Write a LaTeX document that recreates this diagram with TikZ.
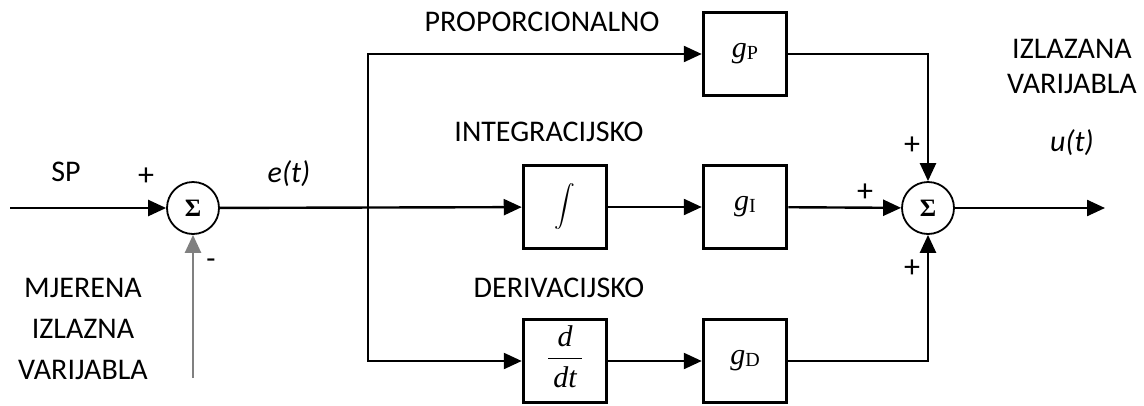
\documentclass[tikz,border=0pt]{standalone}
\usepackage{amsmath}
\usepackage{fontspec}
\setmainfont{Carlito}
\newfontfamily\tms{Liberation Serif}
\usetikzlibrary{arrows.meta}
\newcommand{\pojacanje}[1]{{\tms\fontsize{30}{30}\selectfont\textit{g}\raisebox{-2pt}{\fontsize{20}{20}\selectfont #1}}}
\newcommand{\derivacija}{{\tms\itshape\fontsize{30}{30}\selectfont\setlength{\arrayrulewidth}{1.8pt}\begin{tabular}{@{\,}c@{\,}}d\\[2pt]\hline\rule{0pt}{28pt}dt\end{tabular}}}

\begin{document}
\begin{tikzpicture}[x=1pt, y=-1pt,
		blok/.style={draw, line width=3.5pt, minimum size=83pt, inner sep=0},
		zbroj/.style={draw, circle, line width=1.8pt, minimum size=52pt, inner sep=0, font=\tms\bfseries\fontsize{25}{25}\selectfont},
		veza/.style={line width=2.4pt, -{Triangle[length=18pt, width=16pt]}},
		oznaka/.style={font=\fontsize{30}{41}\selectfont, align=center, inner sep=0},
		znak/.style={font=\fontsize{32}{32}\selectfont, inner sep=0}]
		\useasboundingbox (0,0) rectangle (1144,405);
		% zbrajala i blokovi
		\node (zbrojA) at (193,208) [zbroj] {Σ};
		\node (zbrojB) at (928,208) [zbroj] {Σ};
		\node (gP) at (745,54) [blok] {\pojacanje{P}};
		\node (intg) at (565,207) [blok] {\fontsize{21}{21}\selectfont$\displaystyle\int$};
		\node (gI) at (745,207) [blok] {\pojacanje{I}};
		\node (ddt) at (565,361) [blok] {\derivacija};
		\node (gD) at (745,361) [blok] {\pojacanje{D}};
		% oznake
		\node (sp) at (66,172) [oznaka] {SP};
		\node (et) at (289,174) [oznaka] {\itshape e(t)};
		\node (minus) at (211,264) [oznaka] {-};
		\node (mjerena) at (83,329) [oznaka] {MJERENA\\IZLAZNA\\VARIJABLA};
		\node (prop) at (542,22) [oznaka] {PROPORCIONALNO};
		\node (integ) at (549,132) [oznaka] {INTEGRACIJSKO};
		\node (deriv) at (559,288) [oznaka] {DERIVACIJSKO};
		\node (izlazna) at (1072,66) [oznaka, font=\fontsize{30}{35}\selectfont] {IZLAZANA\\VARIJABLA};
		\node (ut) at (1072,143) [oznaka] {\itshape u(t)};
		\node (plusA) at (146,177) [znak] {+};
		\node (plusB) at (912,146) [znak] {+};
		\node (plusC) at (865,193) [znak] {+};
		\node (plusD) at (912,269) [znak] {+};
		% tocke
		\coordinate (ulaz) at (10,208);
		\coordinate (mjerenje) at (193,378);
		\coordinate (gore) at (368,54);
		\coordinate (dolje) at (368,361);
		\coordinate (izlaz) at (1105,208);
		% veze
		\draw [veza] (ulaz) -- (zbrojA);
		\draw [veza, gray] (mjerenje) -- (zbrojA);
		\draw [veza] (zbrojA) -- (intg);
		\draw [veza] (dolje) |- (gP);
		\draw [veza] (gore) |- (ddt);
		\draw [veza] (intg) -- (gI);
		\draw [veza] (ddt) -- (gD);
		\draw [veza] (gP) -| (zbrojB);
		\draw [veza] (gI) -- (zbrojB);
		\draw [veza] (gD) -| (zbrojB);
		\draw [veza] (zbrojB) -- (izlaz);
	\end{tikzpicture}
\end{document}
